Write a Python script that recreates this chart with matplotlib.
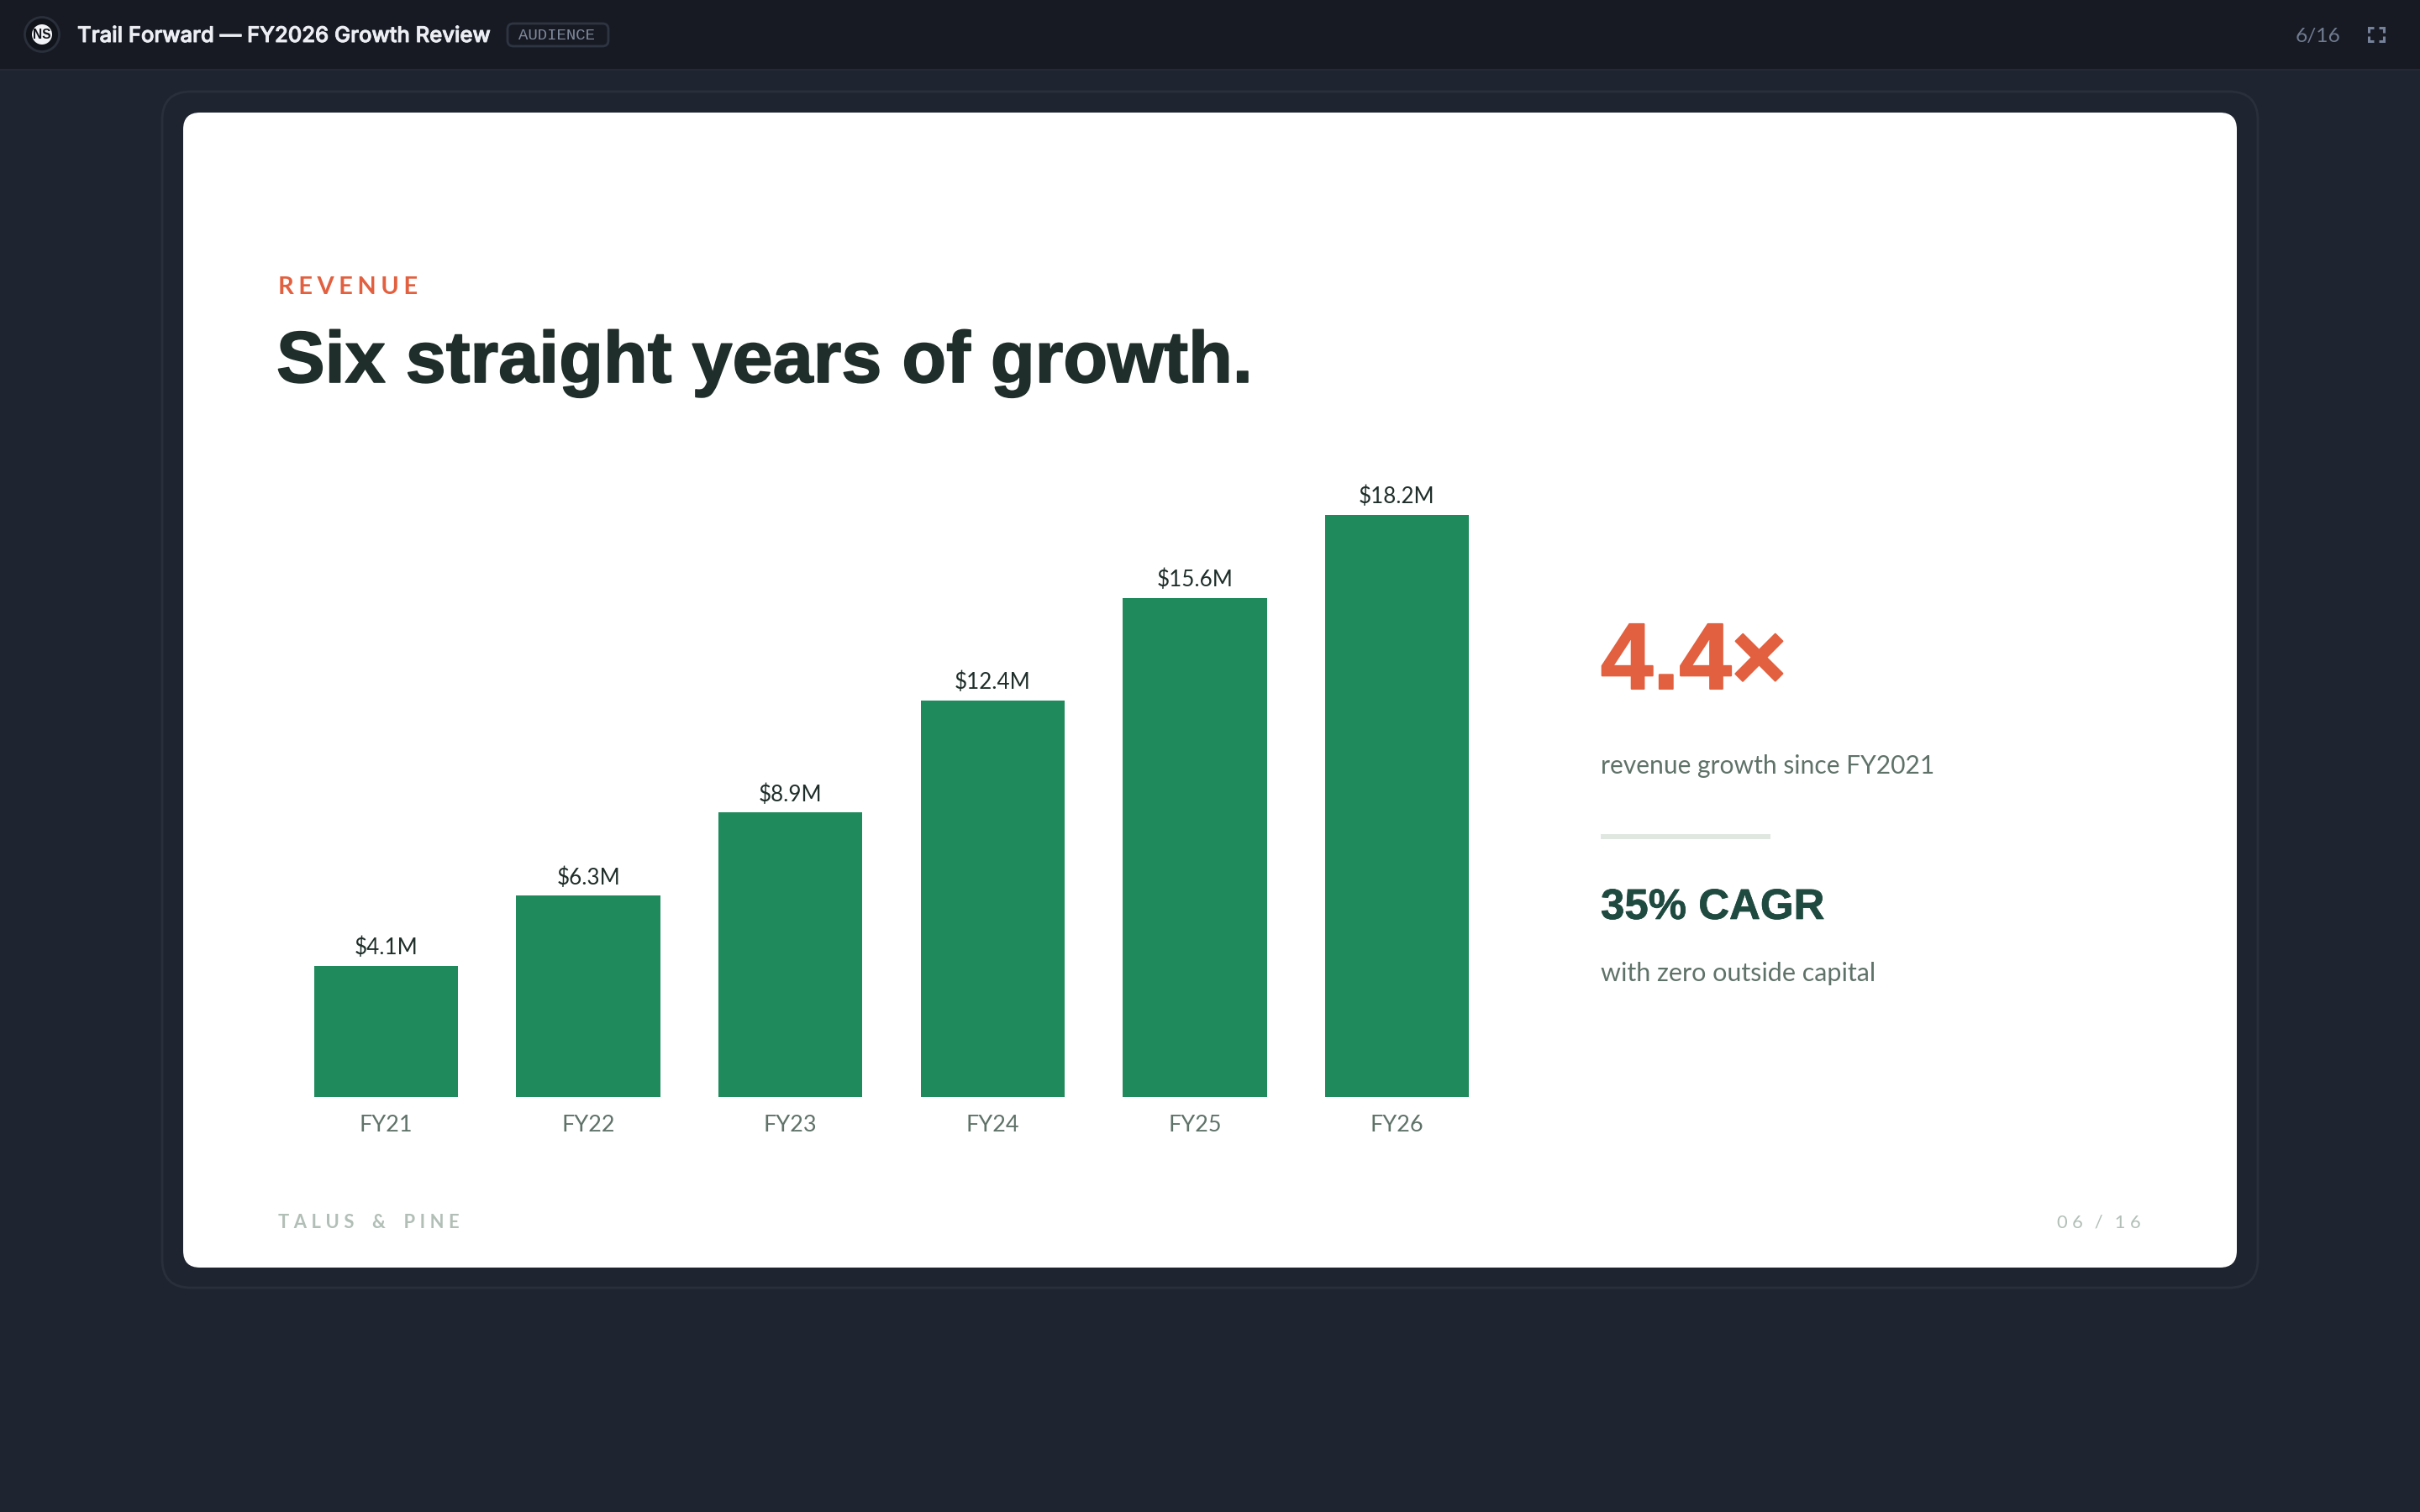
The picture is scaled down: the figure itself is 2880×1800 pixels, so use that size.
import matplotlib
matplotlib.use('Agg')
import matplotlib.pyplot as plt
import matplotlib.patheffects as pe
from matplotlib.patches import FancyBboxPatch, Circle

# chart data
years = ['FY21', 'FY22', 'FY23', 'FY24', 'FY25', 'FY26']
revenue = [4.1, 6.3, 8.9, 12.4, 15.6, 18.2]
revenue_labels = ['$4.1M', '$6.3M', '$8.9M', '$12.4M', '$15.6M', '$18.2M']

# colours
BG = '#1e2430'
BAR_TOP = '#171a23'
EDGE = '#2a303b'
GREEN = '#1f8a5b'
ORANGE = '#e2603f'
INK = '#1f2e2a'
DEEP = '#1f4a3f'
GREY = '#5f7269'
PALE = '#b2bfb7'
RULE = '#e0e6e0'

W, H = 2880, 1800
PT = 0.72  # one picture pixel in points at dpi 100
GAP = '\u2009\u200a'
WIDE_GAP = '\u2009\u200a\u200a'

fig = plt.figure(figsize=(W / 100, H / 100), dpi=100, facecolor=BG)

# page layer, in picture pixels
page = fig.add_axes([0, 0, 1, 1], zorder=0)
page.set_xlim(0, W)
page.set_ylim(H, 0)
page.axis('off')


def box(x0, y0, x1, y1, r, fc, ec='none', lw=0):
    page.add_patch(FancyBboxPatch((x0 + r, y0 + r), x1 - x0 - 2 * r, y1 - y0 - 2 * r,
                                  boxstyle='round,pad=%d,rounding_size=%d' % (r, r),
                                  fc=fc, ec=ec, lw=lw))


def label(x, y, s, px, color, family='Lato', weight='normal', ha='left', va='baseline', heavy=0):
    t = page.text(x, y, s, fontsize=px * PT, color=color, family=family,
                  weight=weight, ha=ha, va=va)
    if heavy:
        t.set_path_effects([pe.withStroke(linewidth=heavy, foreground=color)])
    return t


# top bar
page.fill_between([0, W], 0, 82, color=BAR_TOP, lw=0)
page.plot([0, W], [82.5, 82.5], color='#242a36', lw=1.4)
page.add_patch(Circle((50, 41), 20.5, fc='#11141b', ec=EDGE, lw=2))
page.add_patch(Circle((50, 41), 12, fc='#f2f3f6', ec='none'))
label(50, 41.5, 'NS', 15.5, '#11141b', family='Liberation Sans', weight='bold', ha='center', va='center')
label(92, 50, 'Trail Forward \u2014 FY2026 Growth Review', 25.6, '#eceef4', family='Inter', weight='medium', heavy=0.7)
box(604, 28, 724, 55, 7, 'none', ec='#2e3542', lw=2)
label(617, 47, 'AUDIENCE', 19, '#7f8a9d', family='Liberation Mono')
label(2732, 50, '6/16', 24.5, '#6f7b90')

# fullscreen icon
for cx, sx in ((2819, 1), (2837, -1)):
    for cy, sy in ((33, 1), (49, -1)):
        page.plot([cx + 6 * sx, cx, cx], [cy, cy, cy + 6 * sy], color='#76829a', lw=2.2,
                  solid_joinstyle='miter', solid_capstyle='butt')

# slide frame and slide
box(193, 109, 2687, 1533, 34, 'none', ec='#2a303b', lw=2)
box(218, 134, 2662, 1509, 20, 'white')

# slide header
label(331, 350, GAP.join('REVENUE'), 29, ORANGE, weight='bold', family=['Lato', 'DejaVu Sans'])
label(329, 455, 'Six straight years of growth.', 86.4, INK, family='Liberation Sans', weight='bold', heavy=1.2)

# side callouts
label(1905, 820, '4.4\u00d7', 112, ORANGE, family='Liberation Sans', weight='bold', heavy=1.5)
label(1905, 921, 'revenue growth since FY2021', 30, GREY)
page.fill_between([1905, 2107], 993, 999, color=RULE, lw=0)
label(1905, 1094, '35% CAGR', 51, DEEP, family='Liberation Sans', weight='bold', heavy=0.5)
label(1905, 1168, 'with zero outside capital', 30.5, GREY)

# footer
label(331, 1462, WIDE_GAP.join('TALUS') + '   ' + WIDE_GAP + '&' + WIDE_GAP + '   ' + WIDE_GAP.join('PINE'), 22, PALE,
      weight='bold', family=['Lato', 'DejaVu Sans'])
label(2548, 1462, WIDE_GAP.join('06') + ' \u200a\u200a' + WIDE_GAP + '/' + WIDE_GAP + '\u200a\u200a ' + WIDE_GAP.join('16'), 22, PALE,
      family=['Lato', 'DejaVu Sans'], ha='right')

# bar chart
left, right, base, top = 339.4, 1782.6, 1306, 544
ax = fig.add_axes([left / W, 1 - base / H, (right - left) / W, (base - top) / H], zorder=1)
ax.patch.set_alpha(0)
bars = ax.bar(years, revenue, width=0.713, color=GREEN)
ax.set_xlim(-0.5, 5.5)
ax.set_ylim(0, 20)
ax.set_yticks([])
for s in ax.spines.values():
    s.set_visible(False)
ax.tick_params(axis='x', length=0, pad=15, labelsize=27 * PT, labelcolor=GREY)
for t in ax.get_xticklabels():
    t.set_family('Lato')
ax.bar_label(bars, labels=revenue_labels, padding=6, fontsize=26 * PT, color=INK, family='Lato')

fig.savefig('out.png', dpi=100, facecolor=BG)
